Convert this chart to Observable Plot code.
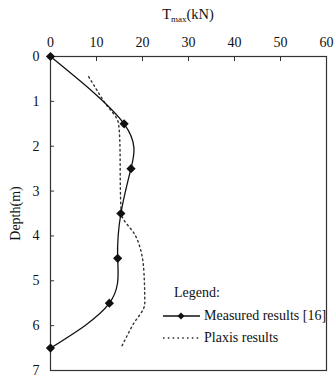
<!DOCTYPE html>
<html><head><meta charset="utf-8">
<script src="https://cdn.jsdelivr.net/npm/d3@7"></script>
<script src="https://cdn.jsdelivr.net/npm/@observablehq/plot@0.6"></script>
<style>
html,body{margin:0;padding:0;background:#fff;}
#wrap{position:relative;width:334px;height:377px;font-family:"Liberation Serif","DejaVu Serif",serif;color:#111;}
#title{position:absolute;left:0;width:376px;top:6px;text-align:center;font-size:14.5px;}
#title sub{font-size:9px;vertical-align:-3px;}
#legend{position:absolute;left:162px;top:281px;font-size:14px;}
#legend .row{display:flex;align-items:center;height:22px;}
</style></head>
<body><div id="wrap"><div id="title">T<sub>max</sub>(kN)</div><div id="chart"></div><div id="legend"></div></div>
<script>
// Measured results [16]
const measuredDepth = [0, 1.5, 2.5, 3.5, 4.5, 5.5, 6.5];
const measuredT = [0, 16, 17.5, 15.3, 14.6, 12.8, 0];
// Plaxis results
const plaxisDepth = [0.45, 1.0, 1.5, 2.0, 3.0, 3.5, 4.0, 4.5, 5.0, 5.5, 6.0, 6.5];
const plaxisT = [8.3, 11.6, 14.8, 15.1, 15.2, 15.4, 18.5, 20.0, 20.4, 20.5, 17.8, 15.3];
const xTicks = [0, 10, 20, 30, 40, 50, 60];
const yTicks = [0, 1, 2, 3, 4, 5, 6, 7];
const seriesNames = ["Measured results [16]", "Plaxis results"];

const measured = measuredDepth.map((d, i) => ({depth: d, t: measuredT[i]}));
const plaxis = plaxisDepth.map((d, i) => ({depth: d, t: plaxisT[i]}));

const chart = Plot.plot({
  width: 334, height: 377,
  marginLeft: 50, marginRight: 8, marginTop: 56, marginBottom: 7,
  style: {fontFamily: '"Liberation Serif", serif', fontSize: "14px", color: "#111", background: "#fff"},
  x: {domain: [0, 60], axis: null},
  y: {domain: [0, 7], reverse: true, axis: null},
  marks: [
    Plot.frame({stroke: "#333", strokeWidth: 1.2}),
    Plot.axisX(xTicks, {anchor: "top", tickSize: -4, tickPadding: 14, label: null, stroke: "#333"}),
    Plot.axisY(yTicks, {anchor: "left", tickSize: -4, tickPadding: 15, label: "Depth(m)", labelAnchor: "center", labelArrow: "none", labelOffset: 40, stroke: "#333"}),
    Plot.line(plaxis, {x: "t", y: "depth", curve: "monotone-y", stroke: "#333", strokeWidth: 1.4, strokeDasharray: "1.6,3.2"}),
    Plot.line(measured, {x: "t", y: "depth", curve: "natural", stroke: "#111", strokeWidth: 1.3}),
    Plot.dot(measured, {x: "t", y: "depth", symbol: "diamond2", r: 3.2, fill: "#111", stroke: "#111"})
  ]
});
document.getElementById("chart").appendChild(chart);

const leg = document.getElementById("legend");
leg.innerHTML = `<div class="row" style="padding-left:12px;height:24px">Legend:</div>
<div class="row"><svg width="42" height="10"><line x1="1" x2="38" y1="5" y2="5" stroke="#111" stroke-width="1.3"/><path d="M19,1.5L22.5,5L19,8.5L15.5,5Z" fill="#111"/></svg>${seriesNames[0]}</div>
<div class="row"><svg width="42" height="10"><line x1="1" x2="38" y1="5" y2="5" stroke="#333" stroke-width="1.4" stroke-dasharray="1.6,3.2"/></svg>${seriesNames[1]}</div>`;
</script></body></html>
